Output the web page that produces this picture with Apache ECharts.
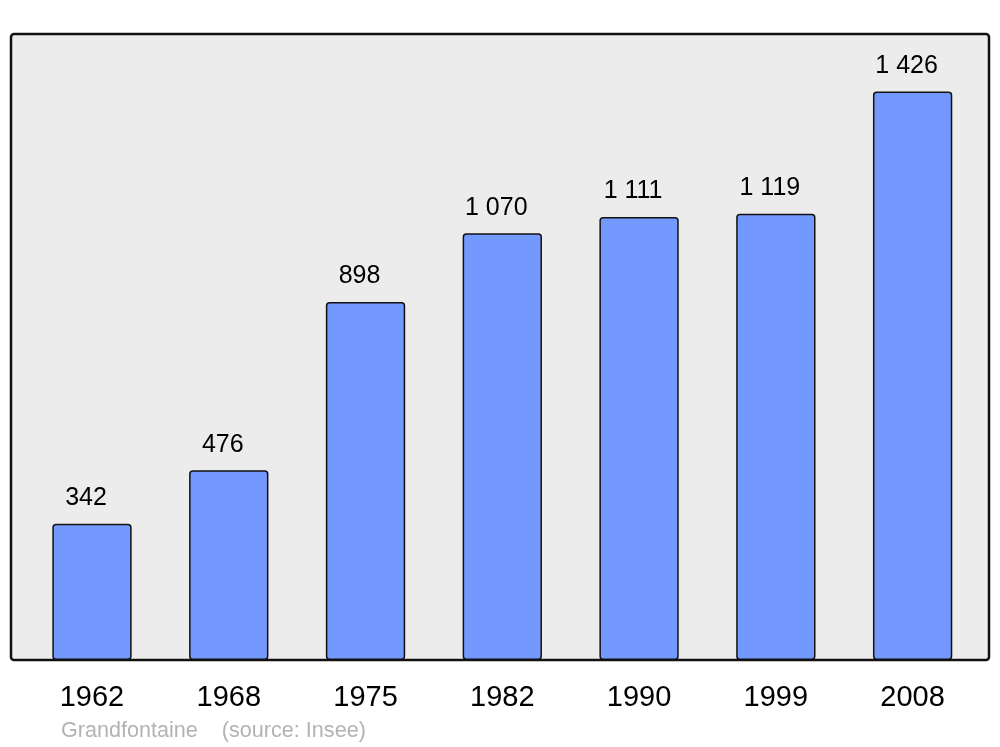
<!DOCTYPE html>
<html><head><meta charset="utf-8">
<script src="https://cdn.jsdelivr.net/npm/echarts@6/dist/echarts.min.js"></script>
<style>html,body{margin:0;padding:0;background:#fff}#c{width:1000px;height:747px}</style>
</head><body><div id="c"></div>
<script>
const years = ['1962','1968','1975','1982','1990','1999','2008'];
const population = [342, 476, 898, 1070, 1111, 1119, 1426];
const caption = 'Grandfontaine    (source: Insee)';

function fmt(v){ return String(v).replace(/\B(?=(\d{3})+(?!\d))/g, ' '); }

const chart = echarts.init(document.getElementById('c'), null, {renderer:'canvas'});
chart.setOption({
  animation: false,
  backgroundColor: '#ffffff',
  textStyle: { fontFamily: 'Liberation Sans, Arial, sans-serif' },
  graphic: [
    { type: 'rect', z: -10, shape: { x: 11, y: 34, width: 978, height: 626, r: 3 },
      style: { fill: '#ececec', stroke: '#111', lineWidth: 2.5 } },
    { type: 'text', left: 61, top: 720,
      style: { text: caption, fill: '#b3b3b3', font: '21.6px "Liberation Sans", Arial, sans-serif' } }
  ],
  grid: { left: 23.6, right: 19, top: 34, bottom: 87, containLabel: false },
  xAxis: {
    type: 'category', data: years,
    axisLine: { show: false }, axisTick: { show: false },
    axisLabel: { color: '#000', fontSize: 29, margin: 23, fontFamily: 'Liberation Sans' }
  },
  yAxis: {
    type: 'value', min: 0, max: 1570,
    axisLine: { show: false }, axisTick: { show: false }, axisLabel: { show: false },
    splitLine: { show: false }
  },
  series: [{
    type: 'bar', data: population, barWidth: '58%',
    itemStyle: { color: '#7399ff', borderColor: '#111', borderWidth: 1.5, borderRadius: 3 },
    label: { show: true, position: 'top', distance: 13, offset: [-6, 0], color: '#000', fontSize: 25,
      fontFamily: 'Liberation Sans', formatter: p => fmt(p.value) }
  }]
});
</script></body></html>
